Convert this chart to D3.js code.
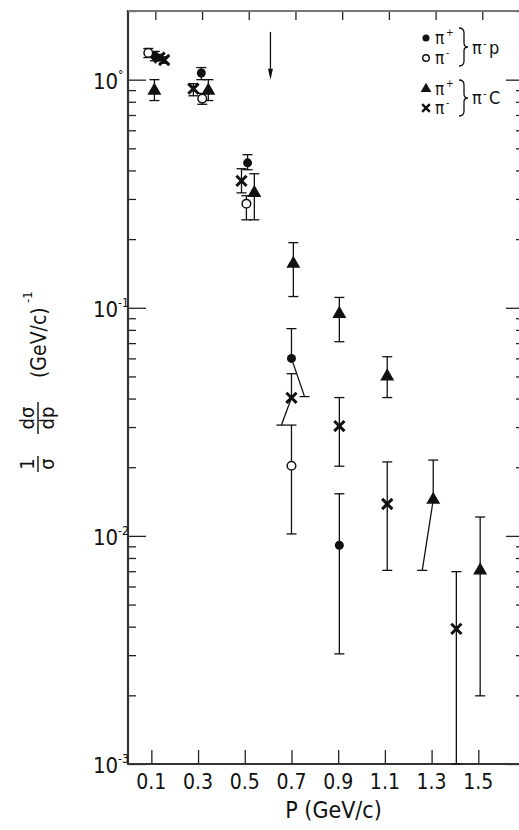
<!DOCTYPE html>
<html>
<head>
<meta charset="utf-8">
<script src="https://cdn.jsdelivr.net/npm/d3@7"></script>
<style>
  body { margin: 0; background: #fff; }
  svg { display: block; }
  text { font-family: "DejaVu Sans Condensed", "Liberation Sans Narrow", sans-serif; fill: #111; }
  .axis path, .axis line { stroke: #222; }
</style>
</head>
<body>
<svg id="chart"></svg>
<script>
// ---- data ----
// each row: [P, value, upper error end, lower error end, P of lower end (slanted bars)]
const piPlusP = [
  [0.115, 1.27, 1.33, 1.21],
  [0.314, 1.07, 1.13, 1.00],
  [0.512, 0.432, 0.469, 0.403],
  [0.70, 0.060, 0.081, 0.0408, 0.756],
  [0.905, 0.0091, 0.0153, 0.00304]
];
const piMinusP = [
  [0.087, 1.31, 1.37, 1.25],
  [0.318, 0.826, 0.87, 0.78],
  [0.507, 0.286, 0.31, 0.243],
  [0.70, 0.0203, 0.0306, 0.0102]
];
const piPlusC = [
  [0.113, 0.895, 1.00, 0.81],
  [0.344, 0.895, 1.00, 0.81],
  [0.541, 0.319, 0.387, 0.243],
  [0.708, 0.156, 0.193, 0.112],
  [0.905, 0.094, 0.111, 0.071],
  [1.11, 0.050, 0.061, 0.0404],
  [1.307, 0.0144, 0.0215, 0.00706, 1.26],
  [1.508, 0.00706, 0.0121, 0.00199]
];
const piMinusC = [
  [0.135, 1.25, 1.29, 1.21],
  [0.155, 1.22, 1.26, 1.18],
  [0.28, 0.913, 0.96, 0.85],
  [0.486, 0.36, 0.407, 0.319],
  [0.70, 0.0403, 0.0514, 0.0306, 0.657],
  [0.905, 0.0303, 0.0404, 0.0202],
  [1.11, 0.0138, 0.0211, 0.00706],
  [1.406, 0.00391, 0.00697, 0.001]
];
const pTicks = [0.1, 0.3, 0.5, 0.7, 0.9, 1.1, 1.3, 1.5];
const yMajor = [1, 0.1, 0.01, 0.001];
const yMajorExp = ['0', '-1', '-2', '-3'];
const arrowP = 0.61, arrowFrom = 1.62, arrowTo = 1.0;

const W = 519, H = 830;
const svg = d3.select('#chart').attr('width', W).attr('height', H);

const x = d3.scaleLinear().domain([0, 1.67]).range([128, 518]);
const y = d3.scaleLog().domain([0.001, 2]).range([764, 11]);

const x0 = x.range()[0], x1 = x.range()[1] + 3;
const yb = y.range()[0], yt = y.range()[1];

// minor ticks 2..9 in each decade
const yMinor = [];
yMajor.forEach(m => { if (m < 1.5) d3.range(2, 10).forEach(k => { if (m * k <= 2) yMinor.push(m * k); }); });

// ---- frame and axes ----
svg.append('g').attr('class', 'axis').attr('transform', `translate(${x0},0)`)
  .call(d3.axisLeft(y).tickValues(yMajor).tickSize(-18).tickFormat(''))
  .call(g => g.select('.domain').remove());
svg.append('g').attr('class', 'axis').attr('transform', `translate(${x0},0)`)
  .call(d3.axisLeft(y).tickValues(yMinor).tickSize(-8).tickFormat(''))
  .call(g => g.select('.domain').remove());
svg.append('g').attr('class', 'axis').attr('transform', `translate(${x1},0)`)
  .call(d3.axisRight(y).tickValues(yMajor).tickSize(-15).tickFormat(''))
  .call(g => g.select('.domain').remove());
svg.append('g').attr('class', 'axis').attr('transform', `translate(${x1},0)`)
  .call(d3.axisRight(y).tickValues(yMinor).tickSize(-5).tickFormat(''))
  .call(g => g.select('.domain').remove());

svg.append('g').attr('class', 'axis').attr('transform', `translate(0,${yb})`)
  .call(d3.axisBottom(x).tickValues(pTicks).tickSize(-14).tickFormat(''))
  .call(g => g.select('.domain').remove());
svg.append('g').attr('class', 'axis').attr('transform', `translate(4,${yt})`)
  .call(d3.axisTop(x).tickValues(pTicks).tickSize(-9).tickFormat(''))
  .call(g => g.select('.domain').remove());

svg.selectAll('.axis line').attr('stroke-width', 1.3);

svg.append('line').attr('x1', x0).attr('x2', x0).attr('y1', yt - 1).attr('y2', yb + 1)
  .attr('stroke', '#333').attr('stroke-width', 2.2);
svg.append('line').attr('x1', x0).attr('x2', W).attr('y1', yb).attr('y2', yb)
  .attr('stroke', '#333').attr('stroke-width', 2);
svg.append('line').attr('x1', x0).attr('x2', W).attr('y1', yt).attr('y2', yt)
  .attr('stroke', '#777').attr('stroke-width', 2);

// tick labels
svg.selectAll('.xl').data(pTicks).enter().append('text')
  .attr('class', 'xl')
  .attr('x', d => x(d)).attr('y', yb + 25)
  .attr('text-anchor', 'middle')
  .attr('font-size', 21)
  .text(d => d.toFixed(1));

const yl = svg.selectAll('.yl').data(yMajor).enter().append('g')
  .attr('transform', d => `translate(${x0 - 35},${y(d) + 9})`);
yl.append('text').attr('font-size', 22).text('10');
yl.append('text').attr('x', 25).attr('y', -10).attr('font-size', 12)
  .text((d, i) => yMajorExp[i] === '0' ? '°' : yMajorExp[i]);

// axis titles
svg.append('text')
  .attr('x', x(0.88)).attr('y', 818)
  .attr('text-anchor', 'middle').attr('font-size', 23)
  .text('P (GeV/c)');

const yt0 = svg.append('g').attr('transform', 'translate(38,383) rotate(-90)');
yt0.append('text').attr('x', -81).attr('y', -4).attr('text-anchor', 'middle').attr('font-size', 20).text('1');
yt0.append('line').attr('x1', -89).attr('x2', -73).attr('y1', 0).attr('y2', 0).attr('stroke', '#111').attr('stroke-width', 1.4);
yt0.append('text').attr('x', -81).attr('y', 16).attr('text-anchor', 'middle').attr('font-size', 20).text('σ');
yt0.append('text').attr('x', -35).attr('y', -4).attr('text-anchor', 'middle').attr('font-size', 20).text('dσ');
yt0.append('line').attr('x1', -51).attr('x2', -19).attr('y1', 0).attr('y2', 0).attr('stroke', '#111').attr('stroke-width', 1.4);
yt0.append('text').attr('x', -35).attr('y', 16).attr('text-anchor', 'middle').attr('font-size', 20).text('dp');
yt0.append('text').attr('x', 5).attr('y', 8).attr('font-size', 21).text('(GeV/c)');
yt0.append('text').attr('x', 80).attr('y', -6).attr('font-size', 13).text('-1');

// ---- data marks ----
const cap = 5;
function errorBars(data) {
  const g = svg.append('g').attr('stroke', '#111').attr('stroke-width', 1.3).attr('fill', 'none');
  data.forEach(d => {
    const px = x(d[0]);
    const lx = d[4] !== undefined ? x(d[4]) : px;
    g.append('line').attr('x1', px).attr('x2', px).attr('y1', y(d[2])).attr('y2', y(d[1]));
    g.append('line').attr('x1', px).attr('x2', lx).attr('y1', y(d[1])).attr('y2', y(d[3]));
    g.append('line').attr('x1', px - cap).attr('x2', px + cap).attr('y1', y(d[2])).attr('y2', y(d[2]));
    g.append('line').attr('x1', lx - cap).attr('x2', lx + cap).attr('y1', y(d[3])).attr('y2', y(d[3]));
  });
}
[piPlusP, piMinusP, piPlusC, piMinusC].forEach(errorBars);

svg.selectAll('.tri').data(piPlusC).enter().append('path')
  .attr('transform', d => `translate(${x(d[0])},${y(d[1])})`)
  .attr('d', d3.symbol(d3.symbolTriangle, 85)).attr('fill', '#111');
svg.selectAll('.crs').data(piMinusC).enter().append('path')
  .attr('transform', d => `translate(${x(d[0])},${y(d[1])})`)
  .attr('d', d3.symbol(d3.symbolTimes, 70)).attr('fill', 'none').attr('stroke', '#111').attr('stroke-width', 3);
svg.selectAll('.dot').data(piPlusP).enter().append('circle')
  .attr('cx', d => x(d[0])).attr('cy', d => y(d[1])).attr('r', 4.5).attr('fill', '#111');
svg.selectAll('.ring').data(piMinusP).enter().append('circle')
  .attr('cx', d => x(d[0])).attr('cy', d => y(d[1])).attr('r', 4.3)
  .attr('fill', '#fff').attr('stroke', '#111').attr('stroke-width', 1.5);

// arrow
const ax = x(arrowP);
svg.append('line').attr('x1', ax).attr('x2', ax).attr('y1', y(arrowFrom)).attr('y2', y(arrowTo) - 6)
  .attr('stroke', '#111').attr('stroke-width', 1.3);
svg.append('path')
  .attr('d', `M${ax - 2.5},${y(arrowTo) - 11}L${ax + 2.5},${y(arrowTo) - 11}L${ax},${y(arrowTo)}Z`)
  .attr('fill', '#111');

// ---- legend ----
const lg = svg.append('g').attr('transform', 'translate(426,0)');
const rows = [
  { y: 38, sym: 'dot', sign: '+' },
  { y: 58, sym: 'ring', sign: '-' },
  { y: 89, sym: 'tri', sign: '+' },
  { y: 108, sym: 'crs', sign: '-' }
];
rows.forEach(r => {
  if (r.sym === 'dot') lg.append('circle').attr('cx', 0).attr('cy', r.y).attr('r', 3.5).attr('fill', '#111');
  if (r.sym === 'ring') lg.append('circle').attr('cx', 0).attr('cy', r.y).attr('r', 3.3).attr('fill', '#fff').attr('stroke', '#111').attr('stroke-width', 1.4);
  if (r.sym === 'tri') lg.append('path').attr('transform', `translate(0,${r.y})`).attr('d', d3.symbol(d3.symbolTriangle, 50)).attr('fill', '#111');
  if (r.sym === 'crs') lg.append('path').attr('transform', `translate(0,${r.y})`).attr('d', d3.symbol(d3.symbolTimes, 40)).attr('stroke', '#111').attr('stroke-width', 2.4);
  lg.append('text').attr('x', 9).attr('y', r.y + 6).attr('font-size', 17).text('π');
  lg.append('text').attr('x', 20).attr('y', r.y - 2).attr('font-size', 10).text(r.sign);
});
function brace(y0, y1) {
  const bx = 33, m = (y0 + y1) / 2;
  lg.append('path')
    .attr('d', `M${bx},${y0} q5,0 5,5 L${bx + 5},${m - 4} q0,4 4,4 q-4,0 -4,4 L${bx + 5},${y1 - 5} q0,5 -5,5`)
    .attr('fill', 'none').attr('stroke', '#111').attr('stroke-width', 1.3);
}
brace(28, 66);
brace(80, 116);
[{ y: 54, t: 'p' }, { y: 104, t: 'C' }].forEach(r => {
  lg.append('text').attr('x', 46).attr('y', r.y).attr('font-size', 18).text('π');
  lg.append('text').attr('x', 57).attr('y', r.y - 7).attr('font-size', 11).text('-');
  lg.append('text').attr('x', 63).attr('y', r.y).attr('font-size', 18).text(r.t);
});
</script>
</body>
</html>
